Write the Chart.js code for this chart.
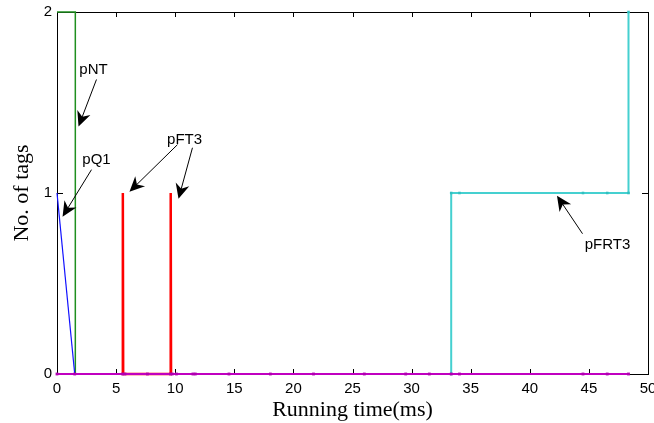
<!DOCTYPE html>
<html><head><meta charset="utf-8">
<script src="https://cdn.jsdelivr.net/npm/chart.js@4/dist/chart.umd.min.js"></script>
<style>html,body{margin:0;padding:0;background:#fff}#wrap{width:654px;height:423px}</style>
</head><body><div id="wrap"><canvas id="c" width="654" height="423"></canvas></div>
<script>
// ---- data ----
const xTicks = [0,5,10,15,20,25,30,35,40,45,50];
const yTicks = [0,1,2];
const pNT_x = [0, 1.55, 1.55];
const pNT_y = [2, 2, 0];
const pQ1_x = [0, 1.5];
const pQ1_y = [1, 0];
const pFT3_x = [5.57, 5.57, 5.6, 9.62, 9.62, 9.65];
const pFT3_y = [0, 1, 0, 0, 1, 0];
const pFRT3_x = [33.35, 33.35, 34.05, 44.5, 46.55, 48.35, 48.35];
const pFRT3_y = [0, 1, 1, 1, 1, 1, 2];
const base_x = [0, 1.5, 5.55, 5.75, 7.65, 9.6, 9.75, 10.1, 11.5, 11.7, 14.55, 18.05, 21.7, 26.0, 29.5, 31.5, 33.35, 34.05, 44.5, 46.55, 48.35];
const base_y = base_x.map(() => 0);
// annotations: label position and arrow (from -> tip), in data units
const notes = [
  {text:'pNT',  tx:3.09, ty:1.68, arrows:[[3.34,1.627,1.82,1.367]]},
  {text:'pQ1',  tx:3.34, ty:1.184, arrows:[[2.92,1.129,0.47,0.869]]},
  {text:'pFT3', tx:10.79, ty:1.295, arrows:[[10.19,1.267,6.13,1.007],[11.46,1.25,10.28,0.968]]},
  {text:'pFRT3',tx:46.57, ty:0.714, arrows:[[44.46,0.775,42.3,0.985]]}
];

const zip = (xs, ys) => xs.map((x,i)=>({x, y: ys[i]}));

const frame = {
  id:'frame',
  beforeDatasetsDraw(chart){
    const {ctx, chartArea:a, scales:{x, y}} = chart;
    ctx.save();
    ctx.strokeStyle='#000'; ctx.lineWidth=1;
    ctx.beginPath();
    xTicks.forEach(v=>{ const p=Math.round(x.getPixelForValue(v))+0.5;
      ctx.moveTo(p,a.bottom); ctx.lineTo(p,a.bottom-5);
      ctx.moveTo(p,a.top); ctx.lineTo(p,a.top+5); });
    yTicks.forEach(v=>{ const p=Math.round(y.getPixelForValue(v))+0.5;
      ctx.moveTo(a.left,p); ctx.lineTo(a.left+6,p);
      ctx.moveTo(a.right,p); ctx.lineTo(a.right-6,p); });
    ctx.stroke();
    ctx.strokeRect(Math.round(a.left)+0.5, Math.round(a.top)+0.5, Math.round(a.right-a.left), Math.round(a.bottom-a.top));
    ctx.restore();
  },
  afterDatasetsDraw(chart){
    const {ctx, scales:{x, y}} = chart;
    ctx.save();
    ctx.fillStyle='#000'; ctx.strokeStyle='#000'; ctx.lineWidth=1;
    ctx.font='15px "Liberation Sans", Arial, sans-serif';
    ctx.textAlign='center'; ctx.textBaseline='middle';
    notes.forEach(n=>{
      ctx.fillText(n.text, x.getPixelForValue(n.tx), y.getPixelForValue(n.ty));
      n.arrows.forEach(([x0,y0,x1,y1])=>{
        const X0=x.getPixelForValue(x0), Y0=y.getPixelForValue(y0);
        const X1=x.getPixelForValue(x1), Y1=y.getPixelForValue(y1);
        const ang=Math.atan2(Y1-Y0, X1-X0);
        const L=15, W=7;
        ctx.beginPath(); ctx.moveTo(X0,Y0);
        ctx.lineTo(X1-Math.cos(ang)*8, Y1-Math.sin(ang)*8); ctx.stroke();
        const bx=X1-Math.cos(ang)*L, by=Y1-Math.sin(ang)*L;
        const mx=X1-Math.cos(ang)*(L*0.7), my=Y1-Math.sin(ang)*(L*0.7);
        ctx.beginPath();
        ctx.moveTo(X1,Y1);
        ctx.lineTo(bx-Math.sin(ang)*W, by+Math.cos(ang)*W);
        ctx.lineTo(mx,my);
        ctx.lineTo(bx+Math.sin(ang)*W, by-Math.cos(ang)*W);
        ctx.closePath(); ctx.fill();
      });
    });
    ctx.restore();
  }
};

new Chart(document.getElementById('c'), {
  type:'line',
  data:{datasets:[
    {label:'pNT', data:zip(pNT_x,pNT_y), borderColor:'#1f8f1f', borderWidth:1.5, pointRadius:0, tension:0, clip:false, order:4},
    {label:'pQ1', data:zip(pQ1_x,pQ1_y), borderColor:'#1010ff', borderWidth:1.2, pointRadius:0, tension:0, clip:false, order:3},
    {label:'pFT3', data:zip(pFT3_x,pFT3_y), borderColor:'#ff0000', borderWidth:2.5, pointRadius:0, tension:0, clip:false, order:2},
    {label:'pFRT3', data:zip(pFRT3_x,pFRT3_y), borderColor:'#45d0d0', borderWidth:2, pointRadius:1.8, pointStyle:'rect', pointBackgroundColor:'#30c0c0', pointBorderWidth:0, tension:0, clip:false, order:1},
    {label:'base', data:zip(base_x,base_y), borderColor:'#c000c0', borderWidth:2, pointRadius:2, pointStyle:'rect', pointBackgroundColor:'#b000b0', pointBorderWidth:0, tension:0, clip:false, order:0}
  ]},
  options:{
    responsive:false, animation:false, devicePixelRatio:1,
    layout:{padding:{top:12, right:6, left:0, bottom:0}},
    plugins:{legend:{display:false}, tooltip:{enabled:false}},
    scales:{
      x:{type:'linear', min:0, max:50,
        afterFit(s){ s.height = 49; s.paddingLeft = 0; s.paddingRight = 0; },
        afterBuildTicks(s){ s.ticks = xTicks.map(v=>({value:v})); },
        grid:{display:false, drawTicks:false}, border:{display:false},
        ticks:{color:'#000', font:{family:'"Liberation Sans", Arial, sans-serif', size:15}, padding:6, maxRotation:0},
        title:{display:true, text:'Running time(ms)', color:'#000', font:{family:'"Liberation Serif", "Times New Roman", serif', size:22}, padding:{top:0,bottom:0}}
      },
      y:{type:'linear', min:0, max:2,
        afterFit(s){ s.width = 57; s.paddingTop = 0; s.paddingBottom = 0; },
        afterBuildTicks(s){ s.ticks = yTicks.map(v=>({value:v})); },
        grid:{display:false, drawTicks:false}, border:{display:false},
        ticks:{color:'#000', font:{family:'"Liberation Sans", Arial, sans-serif', size:15}, padding:5},
        title:{display:true, text:'No. of tags', color:'#000', font:{family:'"Liberation Serif", "Times New Roman", serif', size:22}, padding:{top:9,bottom:0}}
      }
    }
  },
  plugins:[frame]
});
</script></body></html>
